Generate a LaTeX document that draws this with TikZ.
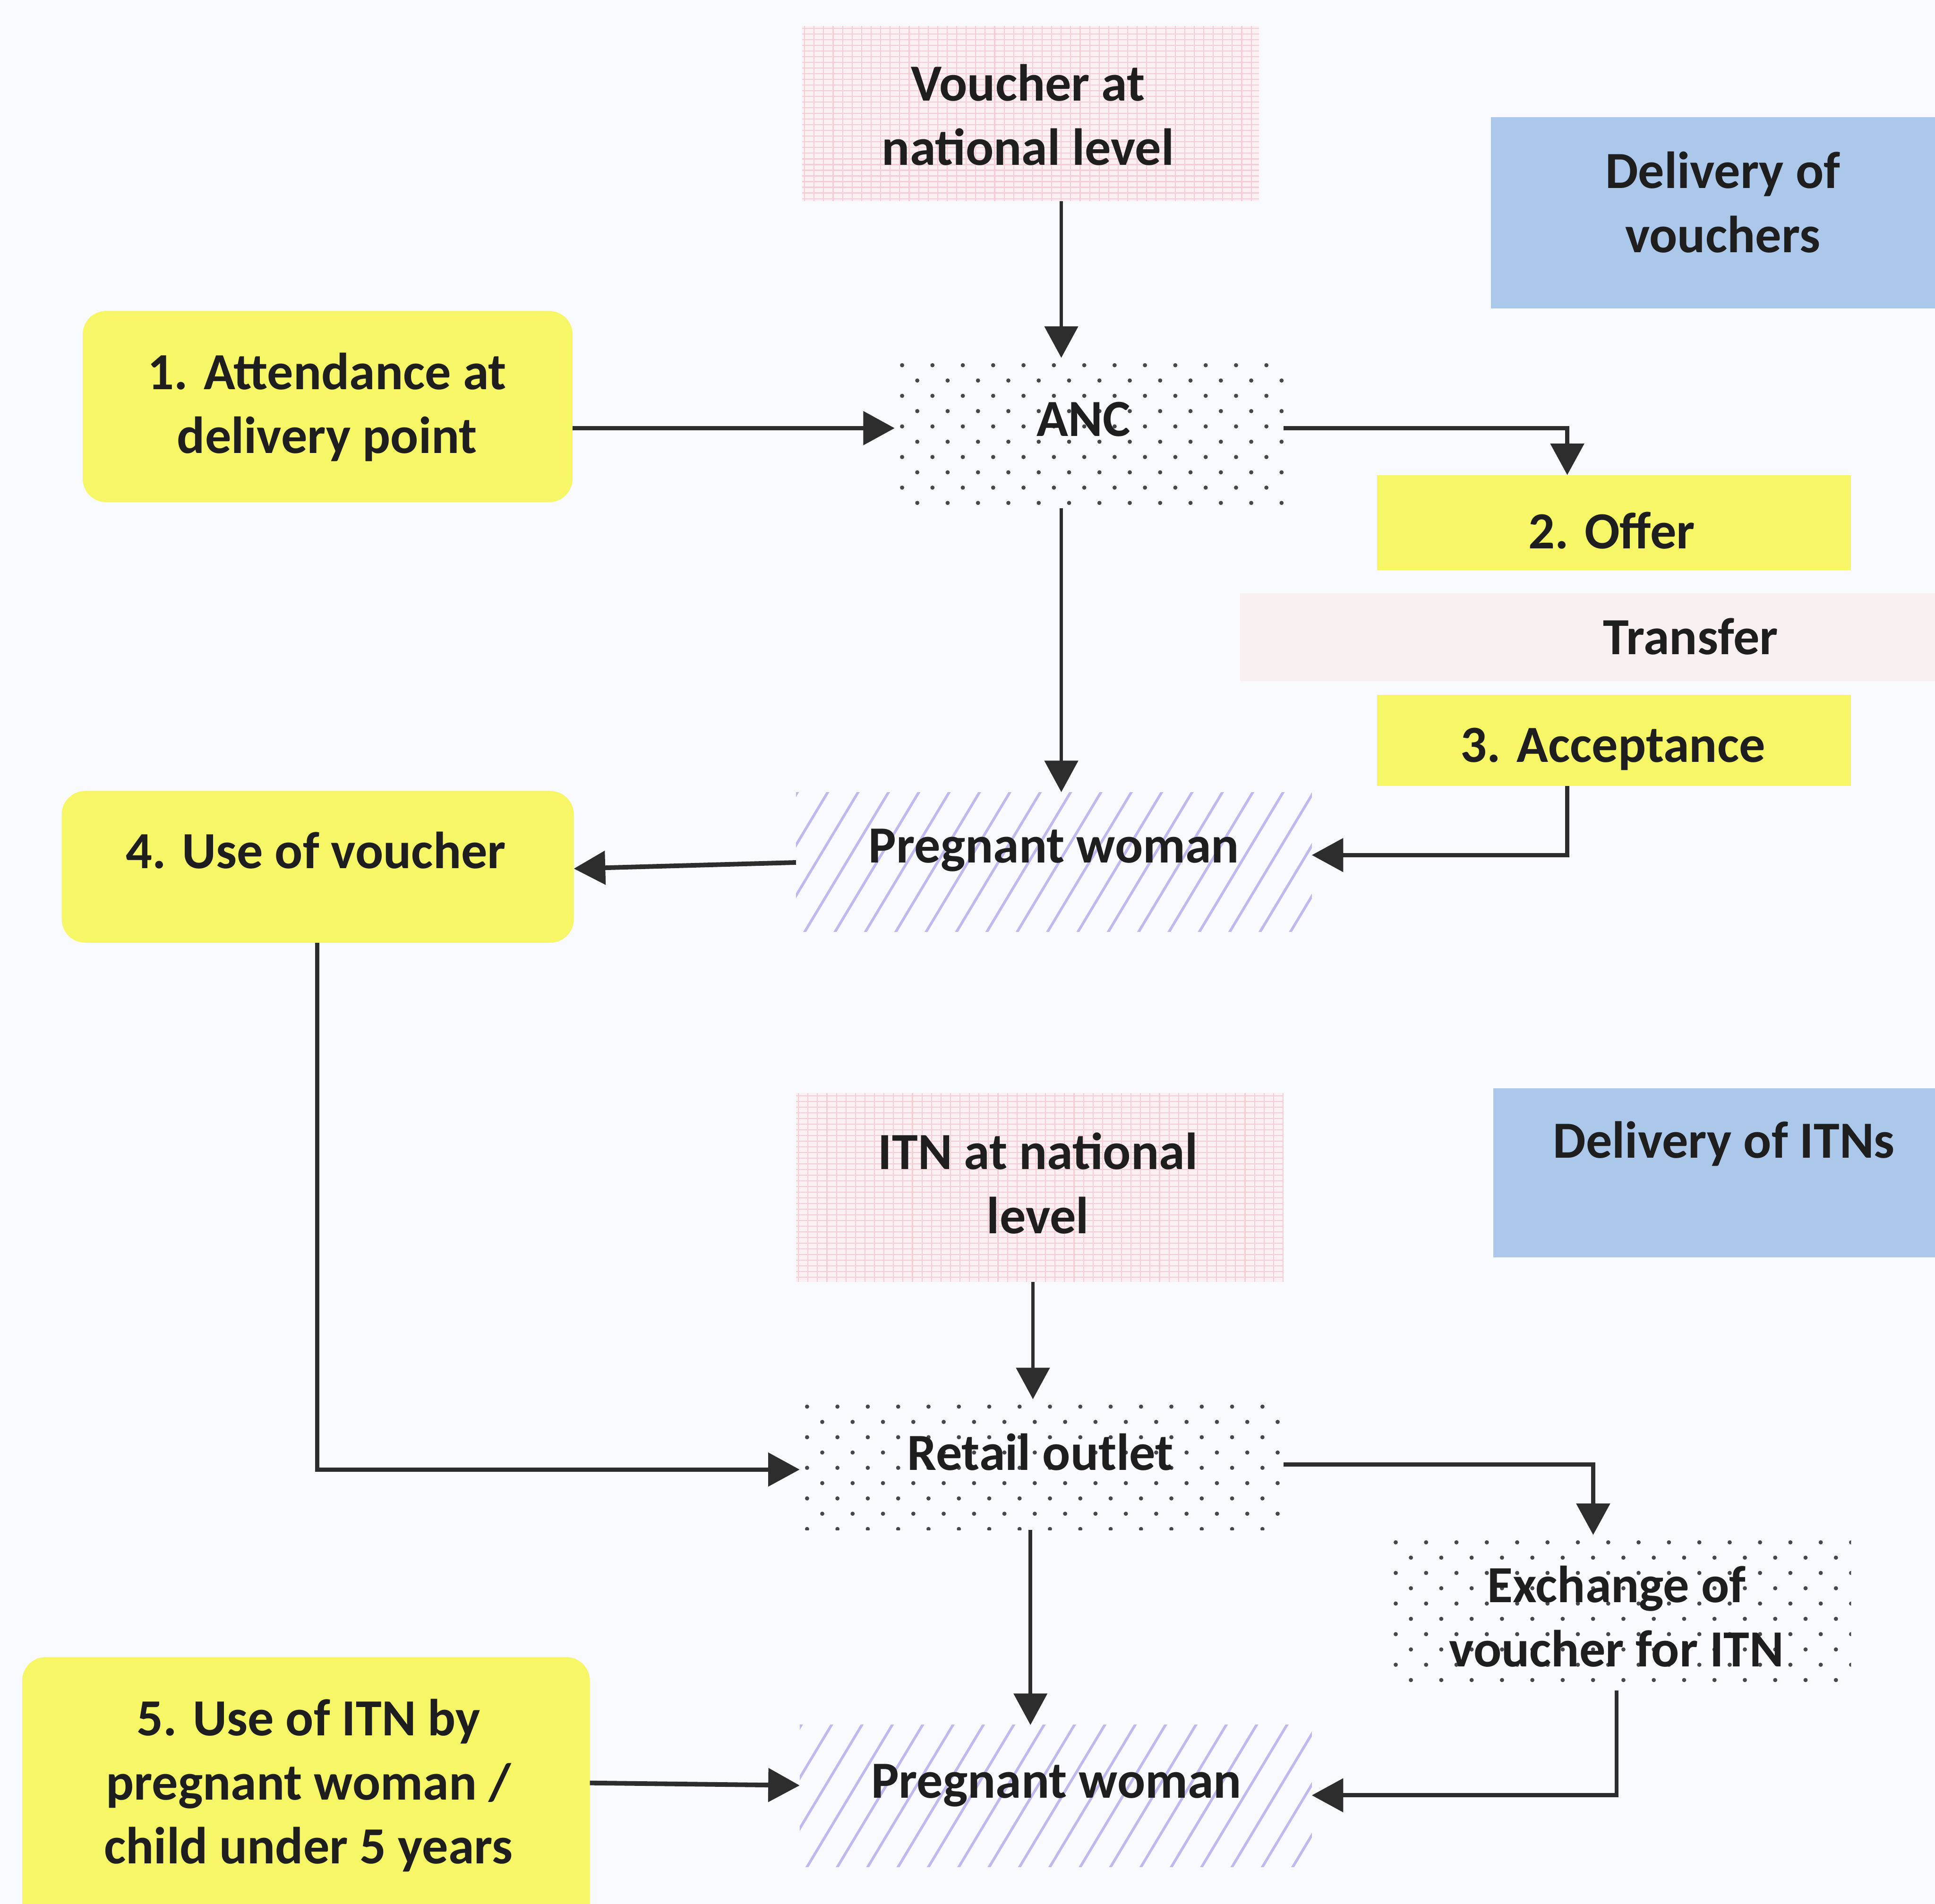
\documentclass[tikz,border=0pt]{standalone}
\usepackage{fontspec}
\setmainfont{Carlito}
\usetikzlibrary{arrows.meta,fit}

\definecolor{bgc}{RGB}{248,250,253}
\definecolor{yel}{RGB}{246,246,102}
\definecolor{blu}{RGB}{171,199,234}
\definecolor{pinkbg}{RGB}{252,240,243}
\definecolor{pinkln}{RGB}{246,204,213}
\definecolor{stripec}{RGB}{192,184,238}
\definecolor{dotc}{RGB}{70,70,75}
\definecolor{linec}{RGB}{45,45,45}
\definecolor{txtc}{RGB}{30,30,30}
\definecolor{transc}{RGB}{249,241,241}

% dotted fill: staggered rows of small dots
\newcommand\dotbox[4]{%
  \pgfmathtruncatemacro\nr{(#4-#2)/12.4}%
  \pgfmathtruncatemacro\nc{(#3-#1)/24.6}%
  \begin{scope}
    \clip (#1,#2) rectangle (#3,#4);
    \foreach \i in {0,...,\nr}{%
      \foreach \j in {0,...,\nc}{%
        \fill[dotc] ({#1+6+24.6*\j+12.3*mod(\i,2)},{#2+6+12.4*\i}) circle[radius=1.7];
      }}
  \end{scope}}

% hatched fill: slanted lavender lines
\newcommand\stripebox[4]{%
  \pgfmathsetmacro\hh{#4-#2}%
  \pgfmathtruncatemacro\ns{(#3-#1+0.6*\hh)/24.6+1}%
  \begin{scope}
    \clip (#1,#2) rectangle (#3,#4);
    \foreach \j in {0,...,\ns}{%
      \draw[stripec, line width=1.6pt] ({#1-0.6*\hh+24.6*\j},{#4+2}) -- ++({0.6*(\hh+4)},{-(\hh+4)});
    }
  \end{scope}}

% fine pink grid fill
\newcommand\gridbox[4]{%
  \fill[pinkbg] (#1,#2) rectangle (#3,#4);
  \pgfmathtruncatemacro\nv{(#3-#1)/7.7}%
  \pgfmathtruncatemacro\nh{(#4-#2)/4.6}%
  \begin{scope}
    \clip (#1,#2) rectangle (#3,#4);
    \foreach \j in {0,...,\nv} \draw[pinkln, line width=0.6pt] ({#1+2+7.7*\j},#2) -- ({#1+2+7.7*\j},#4);
    \foreach \i in {0,...,\nh} \draw[pinkln, line width=0.6pt] (#1,{#2+2+4.6*\i}) -- (#3,{#2+2+4.6*\i});
  \end{scope}}

\begin{document}
\begin{tikzpicture}[x=0.026205cm, y=-0.026205cm,
  box/.style={inner sep=0pt, outer sep=0pt, draw=none},
  lab/.style={font=\fontsize{31.5}{38.7}\selectfont\bfseries, text=txtc, align=center, inner sep=0pt},
  arr/.style={draw=linec, -{Triangle[length=19pt,width=20pt]}},
  vl/.style={arr, line width=2.2pt},
  hl/.style={arr, line width=2.8pt},
  el/.style={arr, line width=2.5pt}]

\useasboundingbox (0,0) rectangle (1568,1543);
\clip (0,0) rectangle (1568,1543);
\fill[bgc] (0,0) rectangle (1568,1543);

% shaded backgrounds of the boxes
\gridbox{650}{21}{1020}{163}
\gridbox{645}{886}{1040}{1039}
\dotbox{725}{290}{1040}{412}
\dotbox{648}{1134}{1040}{1240}
\dotbox{1125}{1244}{1500}{1370}
\stripebox{645}{642}{1063}{755}
\stripebox{648}{1398}{1063}{1513}

% box nodes
\node[box, fit={(650,21) (1020,163)}] (vouch) {};
\node[box, fill=blu, fit={(1208,95) (1575,250)}] (delv) {};
\node[box, fill=yel, rounded corners=0.5cm, fit={(67,252) (464,407)}] (att) {};
\node[box, fit={(725,290) (1040,412)}] (anc) {};
\node[box, fill=yel, fit={(1116,385) (1500,462)}] (offer) {};
\node[box, fill=transc, fit={(1005,481) (1575,552)}] (trans) {};
\node[box, fill=yel, fit={(1116,563) (1500,637)}] (accept) {};
\node[box, fill=yel, rounded corners=0.5cm, fit={(50,641) (465,764)}] (use4) {};
\node[box, fit={(645,642) (1063,755)}] (preg1) {};
\node[box, fill=blu, fit={(1210,882) (1575,1019)}] (deli) {};
\node[box, fit={(645,886) (1040,1039)}] (itn) {};
\node[box, fit={(648,1134) (1040,1240)}] (retail) {};
\node[box, fit={(1125,1244) (1500,1370)}] (exch) {};
\node[box, fill=yel, rounded corners=0.5cm, fit={(18,1343) (478,1570)}] (use5) {};
\node[box, fit={(648,1398) (1063,1513)}] (preg2) {};

% labels
\node[lab] (t-vouch) at (833,93) {Voucher at\\national level};
\node[lab] (t-delv) at (1396,164) {Delivery of\\vouchers};
\node[lab] (t-att) at (265,330) {1. Attendance at\\delivery point};
\node[lab] (t-anc) at (878,340) {ANC};
\node[lab] (t-offer) at (1306,430) {2. Offer};
\node[lab] (t-trans) at (1370,516) {Transfer};
\node[lab] (t-accept) at (1307,607) {3. Acceptance};
\node[lab] (t-use4) at (256,689) {4. Use of voucher};
\node[lab] (t-preg1) at (854,689) {Pregnant woman};
\node[lab] (t-deli) at (1397,927) {Delivery of ITNs};
\node[lab] (t-itn) at (841,959) {ITN at national\\level};
\node[lab] (t-retail) at (843,1177) {Retail outlet};
\node[lab] (t-exch) at (1310,1310) {Exchange of\\voucher for ITN};
\node[lab] (t-use5) at (250,1447) {5. Use of ITN by\\pregnant woman /\\child under 5 years};
\node[lab] (t-preg2) at (856,1447) {Pregnant woman};

% connectors
\draw[vl] (vouch.south -| 860,0) -- (anc.north -| 860,0);
\draw[hl] (att.east |- 0,347) -- (anc.west |- 0,347);
\draw[el] (anc.east |- 0,347) -| (offer.north -| 1270,0);
\draw[vl] (anc.south -| 860,0) -- (preg1.north -| 860,0);
\draw[el] (accept.south -| 1270,0) |- (preg1.east |- 0,693);
\draw[hl] (preg1.west |- 0,699) -- (use4.east |- 0,704);
\draw[el] (use4.south -| 257,0) |- (retail.west |- 0,1191);
\draw[vl] (itn.south -| 837,0) -- (retail.north -| 837,0);
\draw[el] (retail.east |- 0,1187) -| (exch.north -| 1291,0);
\draw[vl] (retail.south -| 835,0) -- (preg2.north -| 835,0);
\draw[hl] (use5.east |- 0,1445) -- (preg2.west |- 0,1447);
\draw[el] (exch.south -| 1310,0) |- (preg2.east |- 0,1455);
\end{tikzpicture}
\end{document}
